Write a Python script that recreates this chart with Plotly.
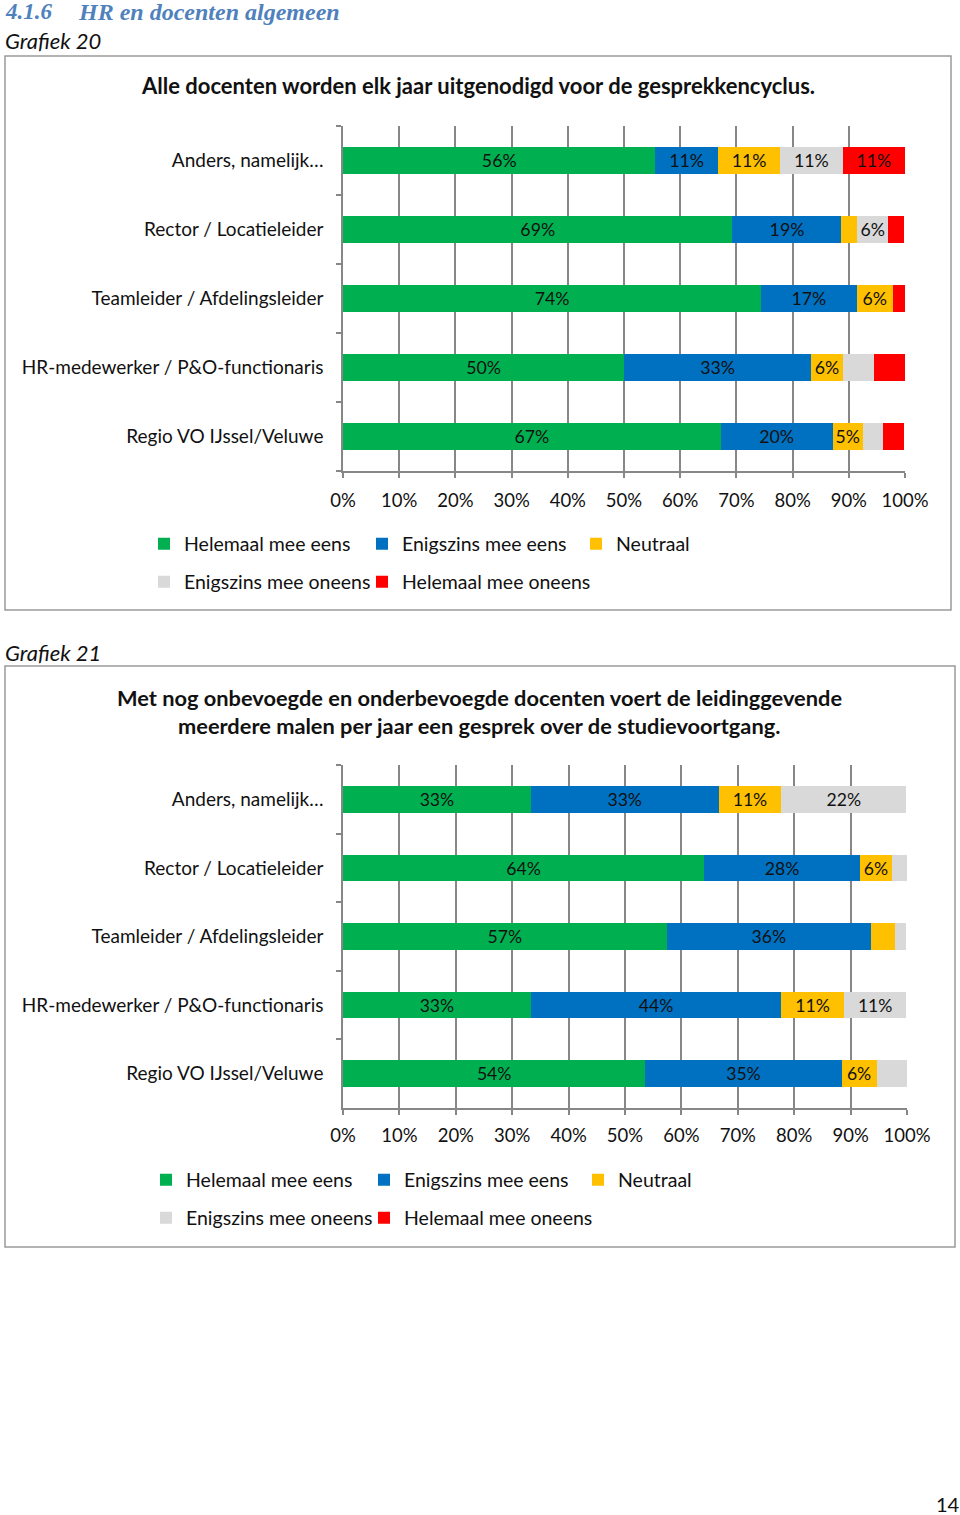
import plotly.graph_objects as go

W, H = 960, 1515

categories = ["Anders, namelijk…", "Rector / Locatieleider", "Teamleider / Afdelingsleider",
              "HR-medewerker / P&O-functionaris", "Regio VO IJssel/Veluwe"]
series_names = ["Helemaal mee eens", "Enigszins mee eens", "Neutraal",
                "Enigszins mee oneens", "Helemaal mee oneens"]
colors = ["#00B050", "#0070C0", "#FFC000", "#D9D9D9", "#FF0000"]

# Grafiek 20 values (%)
g20_helemaal_eens = [55.6, 69.3, 74.4, 50.0, 67.2]
g20_enigszins_eens = [11.1, 19.4, 17.0, 33.3, 19.9]
g20_neutraal = [11.1, 2.8, 6.4, 5.6, 5.4]
g20_enigszins_oneens = [11.1, 5.5, 0.0, 5.6, 3.6]
g20_helemaal_oneens = [11.1, 2.9, 2.2, 5.6, 3.7]
# which data labels are shown in the original (per series)
g20_show = [[1, 1, 1, 1, 1], [1, 1, 1, 1, 1], [1, 0, 1, 1, 1], [1, 1, 0, 0, 0], [1, 0, 0, 0, 0]]

# Grafiek 21 values (%)
g21_helemaal_eens = [33.3, 64.0, 57.4, 33.3, 53.6]
g21_enigszins_eens = [33.3, 27.7, 36.2, 44.4, 34.8]
g21_neutraal = [11.1, 5.6, 4.3, 11.1, 6.2]
g21_enigszins_oneens = [22.2, 2.7, 2.0, 11.1, 5.4]
g21_helemaal_oneens = [0.0, 0.0, 0.0, 0.0, 0.0]
g21_show = [[1, 1, 1, 1, 1], [1, 1, 1, 1, 1], [1, 1, 0, 1, 1], [1, 0, 0, 1, 0], [0, 0, 0, 0, 0]]

x_ticks = list(range(0, 101, 10))
x_ticktext = [f"{v}%" for v in x_ticks]

FONT = "Lato"
TXT = "#111111"
GRID = "#878787"

fig = go.Figure()

def px_x(p):
    return p / W

def px_y(p):
    return 1 - p / H

# legend slot layout (pixel positions of each legend entry: column x, row y)
legend_layout = {}

def add_chart(series, shows, xa, ya, first_legend, col_x, row_y):
    for i, (vals, show) in enumerate(zip(series, shows)):
        texts = [f"{round(v)}%" if s and v > 0 else "" for v, s in zip(vals, show)]
        k = first_legend + i
        lname = "legend" if k == 1 else f"legend{k}"
        legend_layout[lname] = (col_x[i % 3], row_y[i // 3])
        fig.add_trace(go.Bar(
            y=categories, x=vals, orientation="h", name=series_names[i],
            marker=dict(color=colors[i], line=dict(width=0)),
            text=texts, textposition="inside", insidetextanchor="middle", textangle=0,
            textfont=dict(family=FONT, size=19.5, color=TXT),
            xaxis=xa, yaxis=ya, legend=lname,
            hoverinfo="x+y+name",
        ))

add_chart([g20_helemaal_eens, g20_enigszins_eens, g20_neutraal, g20_enigszins_oneens, g20_helemaal_oneens],
          g20_show, "x", "y", 1, [144, 362, 576], [544, 582])
add_chart([g21_helemaal_eens, g21_enigszins_eens, g21_neutraal, g21_enigszins_oneens, g21_helemaal_oneens],
          g21_show, "x2", "y2", 6, [146, 364, 578], [1180, 1218])

def xaxis(domain, standoff):
    return dict(domain=domain, range=[0, 100], tickvals=x_ticks, ticktext=x_ticktext,
                showgrid=True, gridcolor=GRID, gridwidth=1.5, zeroline=False,
                showline=True, linecolor=GRID, linewidth=1.5,
                ticks="outside", ticklen=5, tickcolor=GRID, tickwidth=1.5,
                ticklabelstandoff=standoff, automargin=False,
                tickfont=dict(family=FONT, size=18.5, color=TXT), fixedrange=True)

def yaxis(domain, anchor):
    return dict(domain=domain, anchor=anchor, categoryorder="array",
                categoryarray=categories[::-1], showline=True, linecolor=GRID, linewidth=1.5,
                ticks="outside", ticklen=5, tickcolor=GRID, tickwidth=1.5, tickson="boundaries",
                ticklabelstandoff=14, automargin=False,
                tickfont=dict(family=FONT, size=19, color=TXT), showgrid=False, fixedrange=True)

legend_common = dict(orientation="h", xanchor="left", yanchor="middle",
                     bgcolor="rgba(0,0,0,0)", borderwidth=0,
                     font=dict(family=FONT, size=19.5, color=TXT), itemclick=False, itemdoubleclick=False)

legends = {name: dict(legend_common, x=px_x(x), y=px_y(y)) for name, (x, y) in legend_layout.items()}

fig.update_layout(
    width=W, height=H, margin=dict(l=0, r=0, t=0, b=0, autoexpand=False),
    paper_bgcolor="white", plot_bgcolor="white",
    barmode="stack", bargap=0.61, showlegend=True,
    font=dict(family=FONT, size=18.5, color=TXT),
    xaxis=xaxis([px_x(343), px_x(905)], 7),
    yaxis=yaxis([px_y(471), px_y(126)], "x"),
    xaxis2=dict(xaxis([px_x(343), px_x(907)], 5), anchor="y2"),
    yaxis2=yaxis([px_y(1108), px_y(765)], "x2"),
    **legends,
)

shapes = [
    dict(type="rect", xref="paper", yref="paper", x0=px_x(5), x1=px_x(951), y0=px_y(610), y1=px_y(56),
         line=dict(color="#9A9A9A", width=1.5), fillcolor="rgba(0,0,0,0)", layer="below"),
    dict(type="rect", xref="paper", yref="paper", x0=px_x(5), x1=px_x(955), y0=px_y(1247), y1=px_y(666),
         line=dict(color="#9A9A9A", width=1.5), fillcolor="rgba(0,0,0,0)", layer="below"),
]
fig.update_layout(shapes=shapes)

ann = []
def text(x, y, t, size, xanchor="left", yanchor="middle", bold=False, italic=False, color=TXT, family=FONT):
    s = f"<b>{t}</b>" if bold else t
    ann.append(dict(xref="paper", yref="paper", x=px_x(x), y=px_y(y), text=s, showarrow=False,
                    xanchor=xanchor, yanchor=yanchor,
                    font=dict(family=family, size=size, color=color, style="italic" if italic else "normal")))

text(3, -3.5, "4.1.6", 23, yanchor="top", bold=True, italic=True, color="#4F81BD", family="Liberation Serif")
text(76, -3.5, "HR en docenten algemeen", 24, yanchor="top", bold=True, italic=True, color="#4F81BD",
     family="Liberation Serif")
text(3, 41, "Grafiek 20", 22, italic=True)
text(478, 86, "Alle docenten worden elk jaar uitgenodigd voor de gesprekkencyclus.", 22, xanchor="center", bold=True)
text(3, 652, "Grafiek 21", 22, italic=True)
text(479, 697, "Met nog onbevoegde en onderbevoegde docenten voert de leidinggevende", 21.8, xanchor="center", bold=True)
text(479, 725, "meerdere malen per jaar een gesprek over de studievoortgang.", 21.8, xanchor="center", bold=True)
text(948, 1504, "14", 20, xanchor="center")
fig.update_layout(annotations=ann)

fig.write_html("out.html", post_script="document.body.style.margin='0';document.body.style.overflow='hidden';",
               config={"displayModeBar": False})
